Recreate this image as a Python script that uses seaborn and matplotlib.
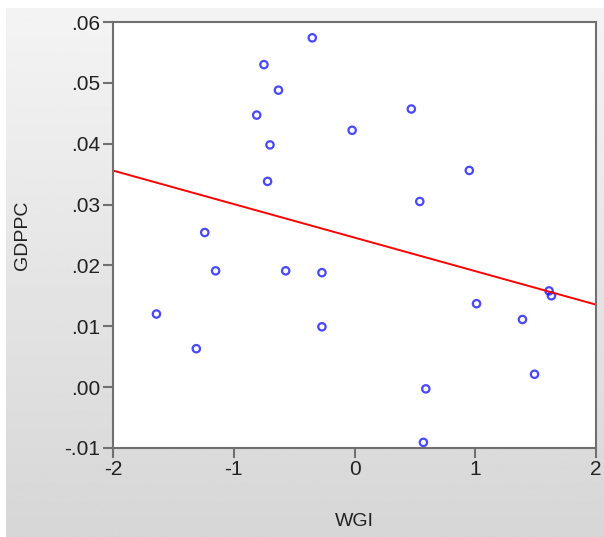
import matplotlib
matplotlib.use("Agg")
import matplotlib.pyplot as plt
from matplotlib.ticker import FuncFormatter
import numpy as np
import pandas as pd
import seaborn as sns

sns.set_style("white")
plt.rcParams['font.family'] = ['Liberation Sans', 'DejaVu Sans']
plt.rcParams['axes.unicode_minus'] = False

# values
wgi = [-1.64, -1.31, -1.24, -1.15, -0.81, -0.75, -0.72, -0.70, -0.63, -0.57,
       -0.35, -0.27, -0.27, -0.02, 0.47, 0.54, 0.59, 0.57, 0.95, 1.01,
       1.39, 1.49, 1.61, 1.63]
gdppc = [0.0120, 0.0063, 0.0254, 0.0191, 0.0447, 0.0530, 0.0338, 0.0398, 0.0488, 0.0191,
         0.0574, 0.0188, 0.0099, 0.0422, 0.0457, 0.0305, -0.0003, -0.0091, 0.0356, 0.0137,
         0.0111, 0.0021, 0.0158, 0.0150]
df = pd.DataFrame({'WGI': wgi, 'GDPPC': gdppc})

fig = plt.figure(figsize=(6.04, 5.37), dpi=100)

# gray gradient background like the original export
bg = fig.add_axes([0.01, 0, 0.99, 0.985], zorder=-5)
grad = np.linspace(0.955, 0.84, 256).reshape(-1, 1)
bg.imshow(grad, aspect='auto', cmap='gray', vmin=0, vmax=1, extent=[0, 1, 0, 1], origin='upper')
bg.axis('off')

ax = fig.add_axes([0.187, 0.166, 0.800, 0.793])
ax.set_facecolor('white')
ax.set_xlim(-2, 2)
ax.set_ylim(-0.01, 0.06)

sns.regplot(data=df, x='WGI', y='GDPPC', ax=ax, ci=None, truncate=False,
            scatter_kws=dict(marker='o', s=28, facecolors='none', edgecolors='#1a1aff', linewidths=1.6),
            line_kws=dict(color='red', lw=1.4))

ax.set_xlim(-2, 2)
ax.set_ylim(-0.01, 0.06)
ax.set_xticks([-2, -1, 0, 1, 2])
ax.set_yticks([-0.01, 0.0, 0.01, 0.02, 0.03, 0.04, 0.05, 0.06])

def fmt(v, pos):
    s = f"{v:.2f}"
    return s.replace("0.", ".", 1)
ax.yaxis.set_major_formatter(FuncFormatter(fmt))

for s in ax.spines.values():
    s.set_color('#707070')
    s.set_linewidth(1.5)
ax.tick_params(direction='out', length=7, width=1.5, color='#707070',
               labelsize=15, labelcolor='#222222', left=True, bottom=True, pad=2)

ax.set_xlabel('WGI', fontsize=14, color='#222222', labelpad=24)
ax.set_ylabel('GDPPC', fontsize=14, color='#222222', labelpad=24)

fig.savefig('out.png', dpi=100)
